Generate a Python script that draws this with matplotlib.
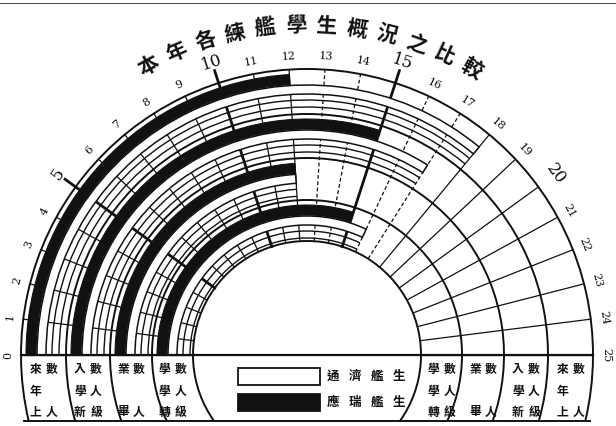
import numpy as np
import matplotlib.pyplot as plt
from matplotlib.patches import Wedge, Arc, Rectangle

plt.rcParams['font.family'] = ['Noto Sans CJK TC', 'DejaVu Sans']

# ---- data ----
title = '本年各練艦學生概況之比較'
ticks = list(range(26))
groups = ['上年來人數', '新級入學人數', '畢業人數', '轉級學人數']
label_rows = [['來數', '年　', '上人'],
              ['入數', '學人', '新級'],
              ['業數', '　　', '畢人'],
              ['學數', '學人', '轉級']]
black_vals = [12, 15, 12, 15]     # 應瑞艦生
white_vals = [18, 17, 12, 16]     # 通濟艦生
legend_labels = ['通濟艦生', '應瑞艦生']

# ---- layout (pixel-like data units, y up) ----
W, H = 616, 426
cx, cy = 307, 426 - 355
R = [286, 241, 197, 155, 114]      # group boundaries, outer -> inner
vmax = 25
ink = '#111111'


def ang(v):
    return 180.0 - v / vmax * 180.0


def pol(r, v):
    t = np.deg2rad(ang(v))
    return cx + r * np.cos(t), cy + r * np.sin(t)


fig = plt.figure(figsize=(W / 100, H / 100), dpi=100)
ax = fig.add_axes([0, 0, 1, 1])
ax.set_xlim(0, W)
ax.set_ylim(0, H)
ax.axis('off')

# bars
for g in range(4):
    ro = R[g]
    ax.add_patch(Wedge((cx, cy), ro - 5, ang(black_vals[g]), 180, width=10,
                       facecolor=ink, edgecolor=ink, lw=0.8, zorder=3))
    ax.add_patch(Wedge((cx, cy), ro - 16, ang(white_vals[g]), 180, width=9,
                       facecolor='white', edgecolor=ink, lw=1.1, zorder=3))
    ext = max(black_vals[g], white_vals[g])
    for off in (31, 38):
        ax.add_patch(Arc((cx, cy), 2 * (ro - off), 2 * (ro - off),
                         theta1=ang(ext), theta2=180, color=ink, lw=1.0, zorder=2))

# group boundaries, continued below the baseline to form the label boxes
ybot = 426 - 421
for r in R:
    below = np.rad2deg(np.arcsin((cy - ybot) / r))
    ax.add_patch(Arc((cx, cy), 2 * r, 2 * r, theta1=-below, theta2=180 + below,
                     color=ink, lw=1.4, zorder=4))

# radial lines
for k in ticks:
    x0, y0 = pol(R[-1], k)
    bold = k in (5, 10, 15)
    big = k in (5, 10, 15, 20)
    r1 = R[0] + (13 if bold else 0)
    x1, y1 = pol(r1, k)
    ls = (0, (3, 2)) if k in (13, 14, 16, 17) else '-'
    ax.plot([x0, x1], [y0, y1], color=ink, lw=2.0 if bold else 0.9,
            ls=ls, zorder=2)
    rl = R[0] + (22 if big else 13)
    tx, ty = pol(rl, k)
    ax.text(tx, ty, str(k), rotation=ang(k) - 90, ha='center', va='center',
            family='DejaVu Serif', fontsize=12 if big else 8,
            color=ink, zorder=5)

# baseline and bottom line
ax.plot([cx - R[0], cx + R[0]], [cy, cy], color=ink, lw=1.6, zorder=4)
ax.plot([cx - R[0] + 3, cx + R[0] - 3], [ybot, ybot], color=ink, lw=1.4, zorder=4)
ax.plot([0, W], [H - 3, H - 3], color='#555555', lw=0.8)

# group labels in the boxes (both sides)
row_y = [H - 369, H - 391, H - 412]
for g in range(4):
    rm = (R[g] + R[g + 1]) / 2
    for side in (-1, 1):
        xc = cx + side * rm
        for i, row in enumerate(label_rows[g]):
            for j, ch in enumerate(row):
                ax.text(xc - 8 + 16 * j, row_y[i], ch, ha='center', va='center',
                        fontsize=8.5, fontweight='bold', color=ink, zorder=5)

# legend
for i, (lab, fc) in enumerate(zip(legend_labels, ['white', ink])):
    yb = H - (385 if i == 0 else 411)
    ax.add_patch(Rectangle((238, yb), 82, 17, facecolor=fc, edgecolor=ink,
                           lw=1.3, zorder=5))
    for j, ch in enumerate(lab):
        ax.text(333 + 22 * j, yb + 8.5, ch, ha='center', va='center',
                fontsize=9, fontweight='bold', color=ink, zorder=5)

# curved title
n = len(title)
for i, ch in enumerate(title):
    a = 118.6 - i * (118.6 - 60.0) / (n - 1)
    t = np.deg2rad(a)
    ax.text(cx + 330 * np.cos(t), cy + 330 * np.sin(t), ch, rotation=a - 90,
            ha='center', va='center', fontsize=15, fontweight='bold',
            color=ink, zorder=5)

fig.savefig('out.png', dpi=100)
